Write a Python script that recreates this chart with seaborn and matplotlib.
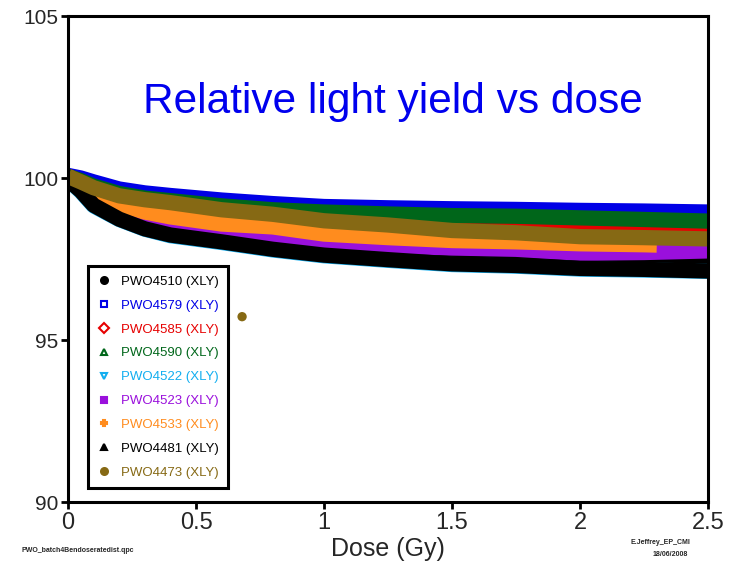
import numpy as np
import pandas as pd
import seaborn as sns
import matplotlib.pyplot as plt
from matplotlib.lines import Line2D

# dose points (Gy)
dose = [0, 0.05, 0.1, 0.2, 0.3, 0.4, 0.6, 0.8, 1.0, 1.25, 1.5, 1.75, 2.0, 2.25, 2.5]
dose_4533 = [0, 0.05, 0.1, 0.2, 0.3, 0.4, 0.6, 0.8, 1.0, 1.25, 1.5, 1.75, 2.0, 2.25, 2.3]

# relative light yield (%) per crystal
pwo4510 = [100.05, 99.82, 99.38, 98.95, 98.65, 98.46, 98.25, 98.02, 97.84, 97.70, 97.60, 97.52, 97.43, 97.40, 97.35]
pwo4579 = [100.08, 100.0, 99.88, 99.66, 99.54, 99.46, 99.32, 99.21, 99.12, 99.08, 99.05, 99.03, 99.00, 98.98, 98.95]
pwo4585 = [100.05, 99.90, 99.72, 99.47, 99.32, 99.20, 99.04, 98.92, 98.78, 98.66, 98.55, 98.52, 98.48, 98.45, 98.40]
pwo4590 = [100.05, 99.92, 99.75, 99.52, 99.38, 99.30, 99.14, 99.02, 98.95, 98.89, 98.84, 98.82, 98.77, 98.72, 98.67]
pwo4522 = [99.95, 99.58, 99.14, 98.72, 98.42, 98.22, 98.01, 97.78, 97.60, 97.46, 97.33, 97.28, 97.19, 97.16, 97.12]
pwo4523 = [100.00, 99.70, 99.30, 98.95, 98.70, 98.52, 98.32, 98.14, 98.00, 97.90, 97.84, 97.80, 97.68, 97.70, 97.75]
pwo4533 = [100.05, 99.80, 99.50, 99.18, 98.95, 98.80, 98.58, 98.49, 98.27, 98.16, 98.07, 98.03, 97.97, 97.94, 97.93]
pwo4481 = [99.95, 99.60, 99.16, 98.73, 98.43, 98.24, 98.03, 97.80, 97.62, 97.48, 97.35, 97.30, 97.21, 97.18, 97.13]
pwo4473 = [100.05, 99.88, 99.70, 99.45, 99.33, 99.24, 99.02, 98.88, 98.68, 98.55, 98.38, 98.31, 98.19, 98.16, 98.12]
outlier_dose = [0.68]
outlier_4473 = [95.72]

names = ['PWO4510 (XLY)', 'PWO4579 (XLY)', 'PWO4585 (XLY)', 'PWO4590 (XLY)', 'PWO4522 (XLY)',
         'PWO4523 (XLY)', 'PWO4533 (XLY)', 'PWO4481 (XLY)', 'PWO4473 (XLY)']
colors = ['#000000', '#0000e6', '#e60000', '#00661a', '#12aef0',
          '#9a10dc', '#ff8c1e', '#000000', '#866914']
markers = ['o', 's', 'D', '^', 'v', 's', 'P', '^', 'o']
filled = [True, False, False, False, False, True, True, True, True]

series = [pwo4510, pwo4579, pwo4585, pwo4590, pwo4522, pwo4523, pwo4533, pwo4481, pwo4473]
frames = []
for name, vals in zip(names, series):
    xs = dose_4533 if name.startswith('PWO4533') else dose
    frames.append(pd.DataFrame({'dose': xs, 'yield': vals, 'crystal': name}))
df = pd.concat(frames, ignore_index=True)

sns.set_style('ticks')
plt.rcParams['font.family'] = ['Liberation Sans', 'DejaVu Sans']

fig = plt.figure(figsize=(7.38, 5.70), dpi=100)
ax = fig.add_axes([68 / 738, 1 - 502 / 570, 640 / 738, 486 / 570])

sns.lineplot(data=df, x='dose', y='yield', hue='crystal', hue_order=names,
             palette=dict(zip(names, colors)), linewidth=11, sort=False,
             legend=False, ax=ax, solid_capstyle='butt')
sns.scatterplot(x=outlier_dose, y=outlier_4473, color=colors[-1], s=45,
                edgecolor='none', ax=ax)

ax.set_xlim(0, 2.5)
ax.set_ylim(90, 105)
ax.set_xticks([0, 0.5, 1, 1.5, 2, 2.5])
ax.set_xticklabels(['0', '0.5', '1', '1.5', '2', '2.5'])
ax.set_yticks([90, 95, 100, 105])
for s in ax.spines.values():
    s.set_visible(True)
    s.set_linewidth(2.2)
    s.set_color('black')
ax.tick_params(axis='both', direction='out', length=5, width=2, color='black')
ax.tick_params(axis='x', labelsize=17, pad=2)
ax.tick_params(axis='y', labelsize=15, pad=2)
ax.set_xlabel('Dose (Gy)', fontsize=18)
ax.xaxis.set_label_coords(0.5, -0.072)
ax.set_ylabel('')

ax.text(0.508, 0.823, 'Relative light yield vs dose', transform=ax.transAxes,
        ha='center', va='center', fontsize=30.5, color='#0000ee')

handles = []
for c, m, f in zip(colors, markers, filled):
    handles.append(Line2D([], [], linestyle='none', marker=m, markersize=5,
                          color=c, markerfacecolor=c if f else 'none',
                          markeredgewidth=1.5))
leg = ax.legend(handles, names, loc='lower left', bbox_to_anchor=(0.031, 0.029),
                fontsize=9.5, labelcolor=colors, frameon=True, fancybox=False,
                edgecolor='black', borderaxespad=0, handlelength=1.0,
                handletextpad=0.8, labelspacing=0.88, borderpad=0.7,
                framealpha=1)
leg.get_frame().set_linewidth(2.2)

fig.text(22 / 738, 1 - 550 / 570, 'PWO_batch4Bendoseratedist.qpc', fontsize=5,
         fontweight='bold', va='center', ha='left')
fig.text(690 / 738, 1 - 543 / 570, 'E.Jeffrey_EP_CMI', fontsize=5,
         fontweight='bold', va='center', ha='right')
fig.text(688 / 738, 1 - 554 / 570, '18/06/2008', fontsize=5,
         fontweight='bold', va='center', ha='right')

fig.savefig('out.png', dpi=100)
